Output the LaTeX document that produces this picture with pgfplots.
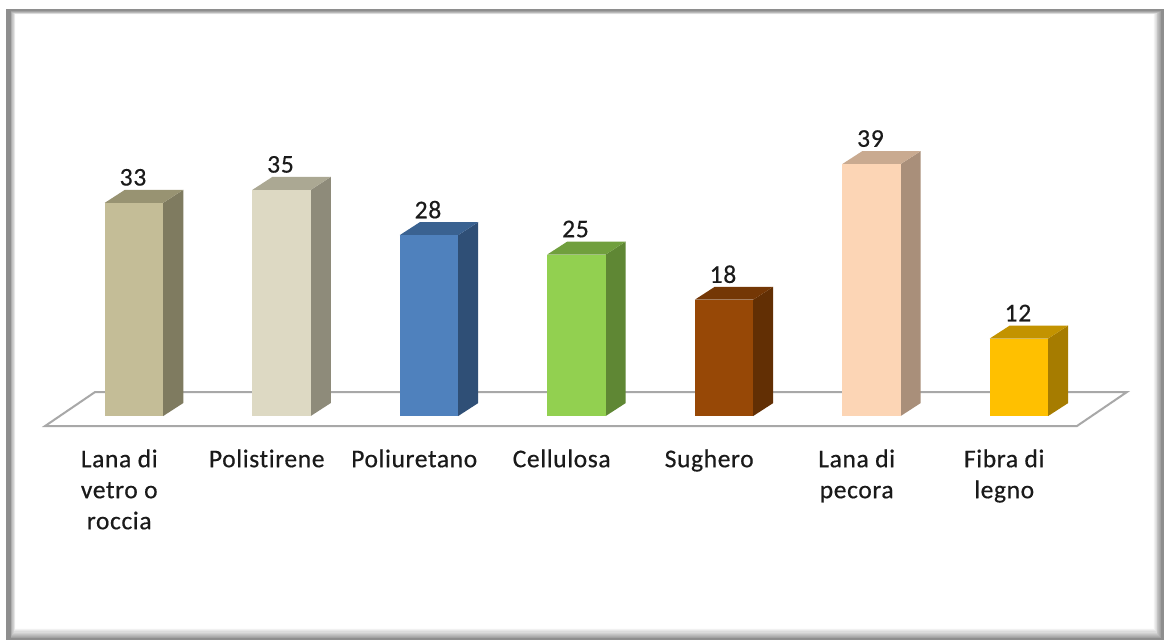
\documentclass[border=0pt]{standalone}
\usepackage{fontspec}
\setmainfont{Carlito}[Ligatures=NoCommon]
\usepackage{pgfplots}
\pgfplotsset{compat=1.18}
\usepackage{pgfplotstable}

% front, side and top colours of the seven columns
\definecolor{fA}{HTML}{C4BD97}\definecolor{sA}{HTML}{7F7B60}\definecolor{tA}{HTML}{989372}
\definecolor{fB}{HTML}{DDD9C3}\definecolor{sB}{HTML}{8E8B7A}\definecolor{tB}{HTML}{ABA893}
\definecolor{fC}{HTML}{4F81BD}\definecolor{sC}{HTML}{2F4F76}\definecolor{tC}{HTML}{3A6291}
\definecolor{fD}{HTML}{92D050}\definecolor{sD}{HTML}{5F8734}\definecolor{tD}{HTML}{709F3D}
\definecolor{fE}{HTML}{974806}\definecolor{sE}{HTML}{622F04}\definecolor{tE}{HTML}{743705}
\definecolor{fF}{HTML}{FCD5B5}\definecolor{sF}{HTML}{A98F7A}\definecolor{tF}{HTML}{C9AA90}
\definecolor{fG}{HTML}{FFC000}\definecolor{sG}{HTML}{A67C00}\definecolor{tG}{HTML}{C39300}
\definecolor{floorline}{HTML}{A8A8A8}
\definecolor{framegrey}{HTML}{8E8E8E}
\definecolor{labeltext}{HTML}{1A1A1A}

\pgfplotstableread{
idx value
0   33
1   35
2   28
3   25
4   18
5   39
6   12
}\insulation

% half width of a column, and its receding depth along x and y
\newcommand{\hw}{0.198}
\newcommand{\dx}{0.136}
\newcommand{\dy}{2.01}

% \column{index}{value}{front}{side}{top}
\newcommand{\column}[5]{%
  \addplot[fill=#4, draw=none, forget plot] coordinates
    {(#1+\hw,0) (#1+\hw+\dx,\dy) (#1+\hw+\dx,#2+\dy) (#1+\hw,#2)} --cycle;
  \addplot[fill=#5, draw=none, forget plot] coordinates
    {(#1-\hw,#2) (#1+\hw,#2) (#1+\hw+\dx,#2+\dy) (#1-\hw+\dx,#2+\dy)} --cycle;
  \addplot[fill=#3, draw=none, forget plot] coordinates
    {(#1-\hw,0) (#1+\hw,0) (#1+\hw,#2) (#1-\hw,#2)} --cycle;
}

% category label below the floor
\newcommand{\catlabel}[2]{%
  \node[anchor=north, align=center, inner sep=0pt, text=labeltext,
        font=\fontsize{25.5}{31}\selectfont\addfontfeature{LetterSpace=2.5,FakeBold=0.5}]
    at (axis cs:#1-0.1,-5.15) {#2};
}

\begin{document}
\begin{tikzpicture}[x=1pt,y=1pt]
  % page and bevelled frame
  \fill[white] (0,0) rectangle (1164,640);
  \fill[framegrey] (6,0) rectangle (1164,631);
  \foreach \k in {0,...,9} {
    \pgfmathsetmacro{\mixw}{min(100,18+\k*10)}
    \fill[white!\mixw!framegrey]
      ({10.5+\k*0.6},{2+\k*1.1}) rectangle ({1160.5-\k*0.8},{628.5-\k*0.35});
  }
  \begin{axis}[
      at={(0,0)}, anchor=south west,
      scale only axis, width=1164pt, height=640pt,
      xmin=-0.9085, xmax=6.9831,
      ymin=-34.67, ymax=64.40,
      hide axis, clip=false,
      /pgf/number format/assume math mode=true,
    ]
    % floor
    \addplot[fill=white, draw=floorline, line width=2pt, forget plot] coordinates
      {(-0.603,-1.55) (6.393,-1.55) (6.732,3.715) (-0.264,3.715)} --cycle;

    \column{0}{33}{fA}{sA}{tA}
    \column{1}{35}{fB}{sB}{tB}
    \column{2}{28}{fC}{sC}{tC}
    \column{3}{25}{fD}{sD}{tD}
    \column{4}{18}{fE}{sE}{tE}
    \column{5}{39}{fF}{sF}{tF}
    \column{6}{12}{fG}{sG}{tG}

    % value labels above each column
    \addplot[draw=none, mark=none, forget plot,
      nodes near coords,
      every node near coord/.append style={
        anchor=center, yshift=25.5pt, xshift=-1pt, inner sep=0pt, text=labeltext,
        font=\fontsize{25.5}{28}\selectfont\addfontfeature{LetterSpace=3,FakeBold=0.5}},
    ] table[x=idx, y=value] {\insulation};

    \catlabel{0}{Lana di\\vetro o\\roccia}
    \catlabel{1}{Polistirene}
    \catlabel{2}{Poliuretano}
    \catlabel{3}{Cellulosa}
    \catlabel{4}{Sughero}
    \catlabel{5}{Lana di\\pecora}
    \catlabel{6}{Fibra di\\legno}
  \end{axis}
\end{tikzpicture}
\end{document}
